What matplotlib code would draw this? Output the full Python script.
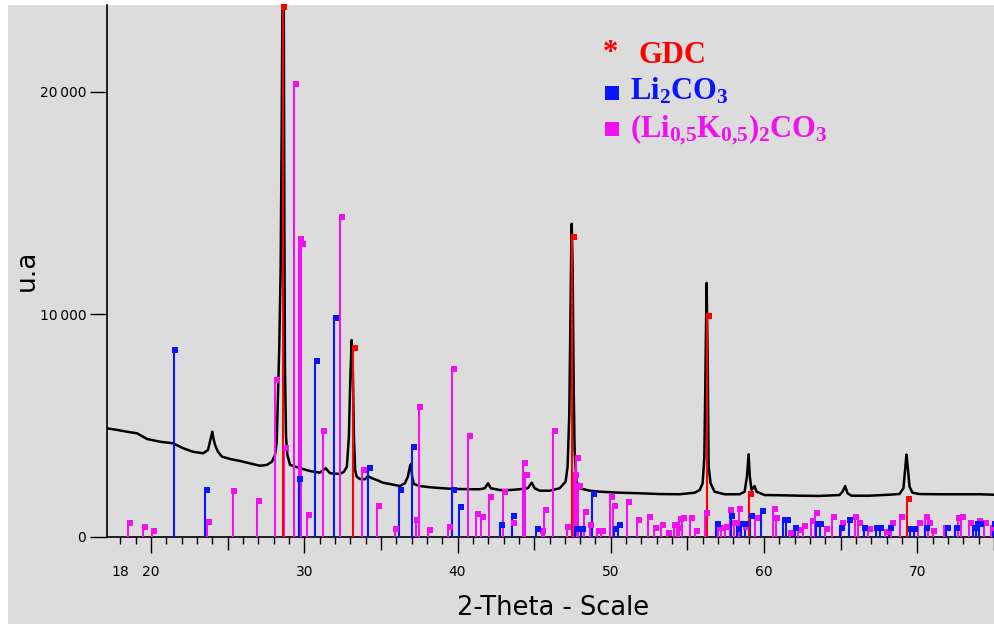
import matplotlib
matplotlib.use("Agg")
import matplotlib.pyplot as plt
from matplotlib import transforms
from matplotlib.patches import Rectangle
from matplotlib.ticker import FixedLocator, FixedFormatter

two_theta = [17.14, 17.79, 18.64, 19.09, 19.75, 20.59, 21.44, 22.09, 22.74, 23.40,
             23.72, 23.92, 24.00, 24.07, 24.18, 24.37, 24.63, 25.16, 25.81, 26.46,
             27.11, 27.57, 27.89, 28.09, 28.20, 28.37, 28.46, 28.53, 28.59, 28.66,
             28.70, 28.74, 28.81, 28.90, 29.07, 29.72, 30.37, 31.02, 31.40, 31.68,
             32.33, 32.59, 32.78, 32.91, 33.00, 33.09, 33.17, 33.24, 33.32, 33.42,
             33.63, 33.96, 34.15, 34.41, 34.74, 35.13, 35.59, 36.24, 36.56, 36.76,
             36.89, 36.96, 37.04, 37.15, 37.54, 38.19, 38.84, 39.50, 40.15, 40.80,
             41.45, 41.78, 41.99, 42.17, 42.76, 43.41, 44.06, 44.58, 44.84, 45.03,
             45.36, 46.01, 46.66, 46.85, 47.05, 47.18, 47.29, 47.35, 47.42, 47.45,
             47.51, 47.58, 47.64, 47.76, 47.97, 48.62, 49.27, 50.58, 51.88, 53.19,
             54.49, 55.47, 55.80, 55.99, 56.10, 56.15, 56.21, 56.25, 56.32, 56.38,
             56.51, 56.77, 57.42, 58.40, 58.73, 58.88, 58.99, 59.07, 59.18, 59.38,
             59.51, 60.03, 61.01, 62.31, 63.62, 64.92, 65.12, 65.29, 65.44, 65.70,
             66.88, 68.18, 68.83, 69.09, 69.22, 69.29, 69.37, 69.49, 69.68, 70.14,
             71.44, 72.75, 74.05, 74.96]
counts = [4880, 4810, 4705, 4660, 4400, 4280, 4210, 3990, 3830, 3760,
          3910, 4510, 4730, 4440, 4130, 3830, 3610, 3505, 3415, 3310,
          3200, 3240, 3385, 3685, 4225, 8540, 12130, 18600, 26000, 25000,
          14380, 7640, 4490, 3685, 3240, 3090, 2965, 2890, 3090, 2865,
          2830, 2935, 3160, 4500, 7000, 8850, 7500, 4500, 3000, 2710,
          2605, 2595, 2740, 2640, 2560, 2440, 2380, 2290, 2410, 2710,
          3160, 3280, 2710, 2380, 2290, 2235, 2200, 2170, 2155, 2145,
          2145, 2190, 2410, 2190, 2110, 2110, 2145, 2190, 2440, 2190,
          2080, 2080, 2190, 2335, 2485, 3160, 5500, 9000, 13000, 14070,
          12000, 6500, 3800, 2485, 2190, 2080, 2035, 1990, 1965, 1930,
          1920, 1990, 2110, 2410, 3540, 6000, 9500, 11415, 8000, 3160,
          2410, 2035, 1920, 1920, 2035, 2710, 3715, 2710, 2110, 2290,
          2035, 1885, 1875, 1855, 1845, 1885, 2035, 2290, 1965, 1855,
          1855, 1900, 1930, 2190, 3160, 3700, 3160, 2260, 1990, 1930,
          1920, 1920, 1920, 1900]

# --- reference sticks ---
gdc_pos = [28.59, 33.16, 47.50, 56.30, 59.01, 69.31]
gdc_int = [23800, 8480, 13480, 9930, 1950, 1720]

li2co3_pos = [21.47, 23.55, 29.63, 30.70, 31.96, 34.15, 36.17, 37.04, 39.63, 40.08,
              42.80, 43.54, 45.10, 47.69, 48.08, 48.77, 50.21, 50.45, 56.88, 57.82,
              58.23, 58.51, 58.73, 59.10, 59.82, 61.23, 61.45, 61.99, 63.40, 63.62,
              64.94, 65.51, 66.49, 67.27, 67.53, 68.18, 69.49, 69.75, 70.51, 71.88,
              72.48, 73.61, 73.83, 74.05, 74.92]
li2co3_int = [8400, 2110, 2605, 7920, 9855, 3090, 2110, 4060, 2110, 1350,
              555, 945, 375, 375, 375, 1930, 375, 555, 585, 945,
              360, 585, 585, 945, 1155, 765, 765, 405, 585, 585,
              405, 765, 405, 405, 405, 405, 375, 375, 405, 405,
              405, 405, 585, 585, 585]

lik_pos = [18.49, 19.50, 20.09, 23.64, 25.33, 26.90, 28.12, 28.70, 29.35, 29.67,
           29.78, 30.16, 31.20, 32.33, 33.76, 34.76, 35.89, 37.26, 37.46, 38.08,
           39.39, 39.63, 40.69, 41.19, 41.56, 42.06, 42.97, 43.58, 44.28, 44.39,
           45.48, 45.67, 46.23, 47.11, 47.60, 47.73, 47.86, 48.25, 48.62, 49.10,
           49.39, 49.97, 50.14, 51.06, 51.73, 52.43, 52.82, 53.30, 53.66, 54.10,
           54.32, 54.43, 54.64, 55.19, 55.52, 56.17, 56.99, 57.21, 57.43, 57.75,
           58.01, 58.34, 58.73, 59.43, 60.57, 60.75, 61.66, 62.20, 62.57, 63.08,
           63.31, 63.99, 64.45, 65.03, 65.90, 66.11, 66.77, 67.92, 68.29, 68.88,
           70.03, 70.51, 70.68, 71.00, 71.77, 72.63, 72.85, 73.35, 74.00, 74.37,
           74.81]
lik_int = [615, 450, 285, 660, 2080, 1620, 7055, 3985, 20360, 13390,
           13165, 990, 4775, 14380, 3010, 1405, 360, 765, 5830, 315,
           435, 7550, 4540, 1035, 885, 1800, 2035, 645, 3340, 2775,
           270, 1225, 4775, 465, 2785, 3550, 2305, 1110, 525, 285,
           285, 1785, 1405, 1575, 750, 910, 420, 540, 195, 540,
           390, 810, 840, 840, 255, 1065, 390, 390, 465, 1215,
           615, 1245, 465, 840, 1245, 840, 195, 315, 495, 735,
           1090, 345, 910, 615, 910, 615, 345, 240, 615, 885,
           645, 910, 645, 270, 420, 840, 910, 645, 735, 645,
           420]

x_major = [18, 20, 30, 40, 50, 60, 70]
y_ticks = [0, 10000, 20000]
y_labels = ["0", "10\u2009000", "20\u2009000"]

RED = "#ff0000"
BLUE = "#0a14ff"
MAGENTA = "#f010f0"

plt.rcParams["mathtext.fontset"] = "custom"
plt.rcParams["mathtext.rm"] = "Liberation Serif:bold"
plt.rcParams["mathtext.it"] = "Liberation Serif:bold"
plt.rcParams["mathtext.bf"] = "Liberation Serif:bold"
plt.rcParams["mathtext.default"] = "rm"

fig = plt.figure(figsize=(9.94, 6.24), dpi=100, facecolor="white")
fig.patches.append(Rectangle((8 / 994, 0), 1, 1 - 5 / 624, transform=fig.transFigure,
                             facecolor="#dcdcdc", edgecolor="none", zorder=-5))
ax = fig.add_axes([107 / 994, 1 - 537 / 624, 887 / 994, 532 / 624])
ax.set_facecolor("none")

ax.plot(two_theta, counts, color="black", lw=1.8, zorder=2)

# reference patterns: stick + small square a bit to the right
mk = transforms.offset_copy(ax.transData, fig=fig, x=1.3, y=0, units="points")
for pos, inten, col in [(lik_pos, lik_int, MAGENTA),
                        (li2co3_pos, li2co3_int, BLUE),
                        (gdc_pos, gdc_int, RED)]:
    ax.vlines(pos, 0, inten, colors=col, lw=1.5, zorder=3)
    ax.plot(pos, inten, "s", color=col, ms=4.5, mew=0, transform=mk, zorder=4,
            clip_on=False)

ax.set_xlim(17.13, 75.0)
ax.set_ylim(0, 23900)

for s in ["top", "right"]:
    ax.spines[s].set_visible(False)
ax.spines["left"].set_linewidth(1.2)
ax.spines["bottom"].set_linewidth(1.2)

ax.xaxis.set_major_locator(FixedLocator(x_major))
ax.xaxis.set_major_formatter(FixedFormatter([str(v) for v in x_major]))
ax.xaxis.set_minor_locator(FixedLocator([v for v in range(18, 76) if v % 10 != 0 and v != 18]))
ax.tick_params(axis="x", which="major", length=11.5, width=1, pad=9, labelsize=10)
ax.tick_params(axis="x", which="minor", length=5, width=1)
ax.xaxis.get_major_ticks()[0].tick1line.set_markersize(5)
minor_locs = ax.xaxis.get_minor_locator()()
for t, v in zip(ax.xaxis.get_minor_ticks(len(minor_locs)), minor_locs):
    if v % 5 == 0:
        t.tick1line.set_markersize(9)
        t.tick1line.set_color("#555555")

ax.yaxis.set_major_locator(FixedLocator(y_ticks))
ax.yaxis.set_major_formatter(FixedFormatter(y_labels))
ax.tick_params(axis="y", which="major", length=12, width=1, pad=3, labelsize=10)

ax.set_xlabel("2-Theta - Scale", fontsize=18.5)
ax.xaxis.set_label_coords(0.503, -0.1335)
ax.xaxis.label.set_va("center")
ax.set_ylabel("u.a", fontsize=19)
ax.yaxis.set_label_coords(-0.0903, 0.502)
ax.yaxis.label.set_va("center")

# legend drawn as text, like the original
serif = dict(family="Liberation Serif", weight="bold", fontsize=22, va="baseline")
fig.text(603 / 994, 1 - 61 / 624, "*", color=RED, **serif)
fig.text(638 / 994, 1 - 63 / 624, "GDC", color=RED, **serif)
fig.text(630 / 994, 1 - 100 / 624, r"Li$_2$CO$_3$", color=BLUE, **serif)
fig.text(630 / 994, 1 - 137 / 624, r"(Li$_{0{,}5}$K$_{0{,}5}$)$_2$CO$_3$", color=MAGENTA, **serif)
ax.plot([0.5693], [0.8355], "s", color=BLUE, ms=10, mew=0, transform=ax.transAxes, clip_on=False)
ax.plot([0.5693], [0.767], "s", color=MAGENTA, ms=10, mew=0, transform=ax.transAxes, clip_on=False)

fig.savefig("out.png", dpi=100, facecolor=fig.get_facecolor())
